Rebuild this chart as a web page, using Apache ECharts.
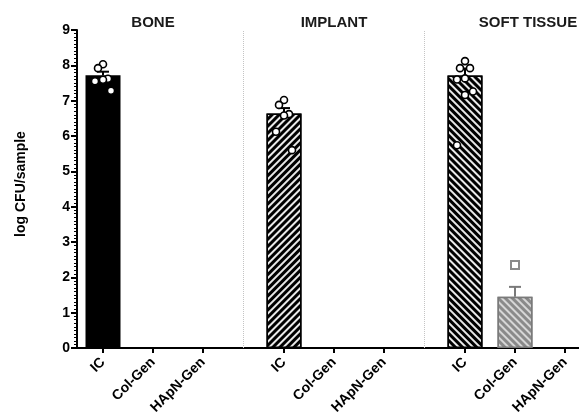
<!DOCTYPE html>
<html>
<head>
<meta charset="utf-8">
<script src="https://cdn.jsdelivr.net/npm/echarts@6/dist/echarts.min.js"></script>
<style>
  html, body { margin: 0; padding: 0; background: #fff; }
  #chart { width: 579px; height: 414px; }
</style>
</head>
<body>
<div id="chart"></div>
<script>
// groups and treatments
const groups = ['BONE', 'IMPLANT', 'SOFT TISSUE'];
const treatments = ['IC', 'Col-Gen', 'HApN-Gen'];

// mean log CFU per group, one entry per treatment
const boneMeans = [7.72, 0, 0];
const implantMeans = [6.64, 0, 0];
const softMeans = [7.71, 1.45, 0];

// SEM (drawn upwards only)
const boneSem = [0.1, 0, 0];
const implantSem = [0.15, 0, 0];
const softSem = [0.2, 0.28, 0];

// individual samples
const bonePointsIC = [8.03, 7.92, 7.62, 7.59, 7.55, 7.28];
const implantPointsIC = [7.02, 6.88, 6.62, 6.58, 6.12, 5.6];
const softPointsIC = [8.12, 7.92, 7.92, 7.63, 7.6, 7.26, 7.16, 5.74];
const softPointsColGen = [2.35];

const yTicks = [0, 1, 2, 3, 4, 5, 6, 7, 8, 9];

const means = [boneMeans, implantMeans, softMeans];
const sems = [boneSem, implantSem, softSem];
const points = [
  [bonePointsIC, [], []],
  [implantPointsIC, [], []],
  [softPointsIC, softPointsColGen, []]
];

const groupStep = 3.62;
const pos = (g, i) => g * groupStep + i + 1;
const xMin = 0.48, xMax = 10.52;

const font = "'Liberation Sans', Arial, sans-serif";

const stripes = (rot, col) => ({
  symbol: 'rect',
  symbolSize: 1,
  dashArrayX: [1, 0],
  dashArrayY: [2, 3],
  rotation: rot,
  color: col
});

const barStyles = [
  [{ color: '#000', borderColor: '#000', borderWidth: 1.5 }, null, null],
  [{ color: '#000', borderColor: '#000', borderWidth: 1.5, decal: stripes(-Math.PI / 4, '#e8e8e8') }, null, null],
  [{ color: '#000', borderColor: '#000', borderWidth: 1.5, decal: stripes(Math.PI / 4, '#e8e8e8') },
   { color: '#8a8a8a', borderColor: '#7a7a7a', borderWidth: 1.5, decal: stripes(Math.PI / 4, '#d6d6d6') }, null]
];

const barData = [];
const errData = [];
const circleData = [];
const squareData = [];
const tickPos = [];
const tickName = {};
groups.forEach((gName, g) => {
  treatments.forEach((t, i) => {
    const x = pos(g, i);
    tickPos.push(x);
    tickName[x.toFixed(3)] = t;
    const v = means[g][i];
    if (v > 0) {
      barData.push({ value: [x, v], itemStyle: barStyles[g][i] });
      errData.push({ value: [x, v, sems[g][i]], color: i === 0 ? '#000' : '#7a7a7a' });
    }
    points[g][i].forEach((p, j) => {
      const off = [0, -0.1, 0.1][j % 3] * (j < 3 ? 1 : 1.6);
      (i === 0 ? circleData : squareData).push([x + off, p]);
    });
  });
});

const groupCenters = groups.map((g, k) => pos(k, 1));
const groupName = {};
groupCenters.forEach((c, k) => { groupName[c.toFixed(3)] = groups[k]; });
const separators = [1, 2].map(g => (pos(g - 1, 2) + pos(g, 0)) / 2);

const chart = echarts.init(document.getElementById('chart'), null, { renderer: 'canvas' });
chart.setOption({
  animation: false,
  backgroundColor: '#fff',
  grid: { left: 77, right: 0, top: 30, bottom: 66, outerBoundsMode: 'none' },
  xAxis: [{
    type: 'value',
    min: xMin, max: xMax,
    splitLine: { show: false },
    axisLine: { show: true, onZero: false, lineStyle: { color: '#000', width: 2 } },
    axisTick: { show: true, customValues: tickPos, length: 5, lineStyle: { color: '#000', width: 2 } },
    axisLabel: {
      customValues: tickPos,
      rotate: 45,
      margin: 12,
      color: '#000',
      fontFamily: font,
      fontWeight: 'bold',
      fontSize: 14,
      formatter: v => tickName[v.toFixed(3)] || ''
    }
  }, {
    type: 'value',
    position: 'top',
    min: xMin, max: xMax,
    splitLine: { show: false },
    axisLine: { show: false },
    axisTick: { show: false },
    axisLabel: {
      customValues: groupCenters,
      margin: 0,
      color: '#1a1a1a',
      fontFamily: font,
      fontWeight: 'bold',
      fontSize: 15,
      formatter: v => {
        const n = groupName[v.toFixed(3)] || '';
        return n === 'SOFT TISSUE' ? '{r|' + n + '}' : n;
      },
      rich: { r: { fontFamily: font, fontWeight: 'bold', fontSize: 15, color: '#1a1a1a', padding: [0, 0, 0, 26] } }
    }
  }],
  yAxis: {
    type: 'value',
    min: 0, max: 9, interval: 1,
    name: 'log CFU/sample',
    nameLocation: 'middle',
    nameGap: 49,
    nameTextStyle: { color: '#000', fontFamily: font, fontWeight: 'bold', fontSize: 14, padding: [0, 0, 0, 10] },
    splitLine: { show: false },
    axisLine: { show: true, lineStyle: { color: '#000', width: 2 } },
    axisTick: { show: true, length: 6, lineStyle: { color: '#000', width: 2 } },
    minorTick: { show: true, splitNumber: 10, length: 3, lineStyle: { color: '#000', width: 1 } },
    axisLabel: {
      color: '#000', fontFamily: font, fontWeight: 'bold', fontSize: 14, margin: 7,
      formatter: v => yTicks.includes(v) ? String(v) : ''
    }
  },
  series: [{
    type: 'bar',
    barWidth: 35,
    data: barData,
    z: 2,
    markLine: {
      silent: true,
      symbol: 'none',
      label: { show: false },
      lineStyle: { type: 'dotted', color: '#c4c4c4', width: 1 },
      data: separators.map(s => ({ xAxis: s }))
    }
  }, {
    type: 'custom',
    z: 3,
    data: errData.map(d => d.value),
    renderItem: (params, api) => {
      const d = errData[params.dataIndex];
      const base = api.coord([api.value(0), api.value(1)]);
      const top = api.coord([api.value(0), api.value(1) + api.value(2)]);
      const half = 6;
      const st = { stroke: d.color, lineWidth: 2 };
      return {
        type: 'group',
        children: [
          { type: 'line', shape: { x1: base[0], y1: base[1], x2: top[0], y2: top[1] }, style: st },
          { type: 'line', shape: { x1: top[0] - half, y1: top[1], x2: top[0] + half, y2: top[1] }, style: st }
        ]
      };
    }
  }, {
    type: 'scatter',
    z: 4,
    symbol: 'circle',
    symbolSize: 7,
    itemStyle: { color: '#fff', borderColor: '#000', borderWidth: 1.6, opacity: 1 },
    data: circleData
  }, {
    type: 'scatter',
    z: 4,
    symbol: 'rect',
    symbolSize: 8,
    itemStyle: { color: '#fff', borderColor: '#8a8a8a', borderWidth: 2, opacity: 1 },
    data: squareData
  }]
});
</script>
</body>
</html>
